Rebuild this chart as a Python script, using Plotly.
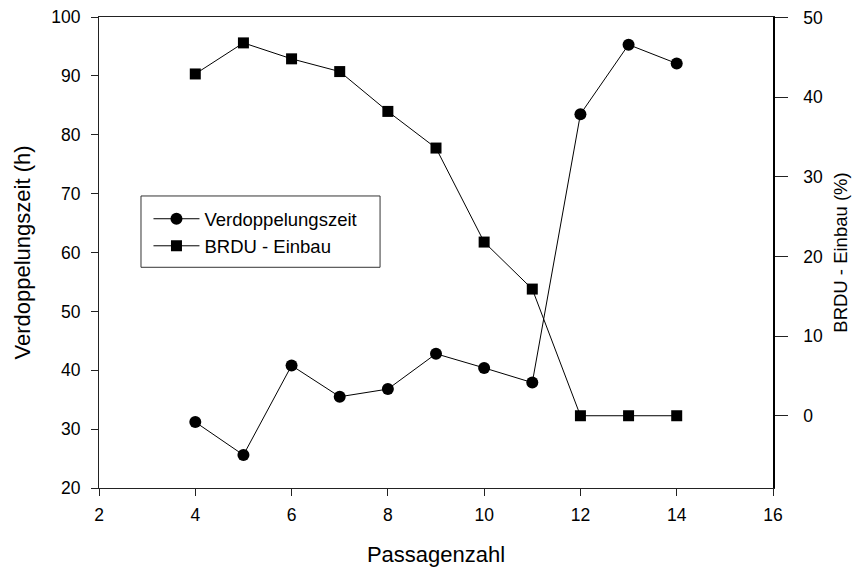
import plotly.graph_objects as go

# Passage numbers and measured values
passagen = [4, 5, 6, 7, 8, 9, 10, 11, 12, 13, 14]
verdoppelungszeit = [31.2, 25.6, 40.8, 35.5, 36.8, 42.8, 40.4, 37.9, 83.5, 95.3, 92.1]
brdu_einbau = [42.9, 46.8, 44.8, 43.2, 38.2, 33.6, 21.8, 15.9, 0.0, 0.0, 0.0]

x_ticks = [2, 4, 6, 8, 10, 12, 14, 16]
y_left_ticks = [20, 30, 40, 50, 60, 70, 80, 90, 100]
y_right_ticks = [0, 10, 20, 30, 40, 50]

FONT = "Liberation Sans, Arial, sans-serif"
AXIS_COLOR = "#222222"

fig = go.Figure()

fig.add_trace(go.Scatter(
    x=passagen, y=verdoppelungszeit, name="Verdoppelungszeit",
    mode="lines+markers",
    line=dict(color="black", width=1),
    marker=dict(symbol="circle", size=12, color="black"),
    yaxis="y",
))

fig.add_trace(go.Scatter(
    x=passagen, y=brdu_einbau, name="BRDU - Einbau",
    mode="lines+markers",
    line=dict(color="black", width=1),
    marker=dict(symbol="square", size=11, color="black"),
    yaxis="y2",
))

# Legend frame drawn as a paper-anchored rectangle
fig.add_shape(
    type="rect", xref="paper", yref="paper",
    x0=0.0623, x1=0.417, y0=0.4686, y1=0.620,
    line=dict(color="#333333", width=1), fillcolor="rgba(0,0,0,0)",
    layer="below",
)

fig.update_layout(
    width=858, height=571,
    margin=dict(l=99, r=85, t=17, b=83, autoexpand=False),
    paper_bgcolor="white", plot_bgcolor="white",
    font=dict(family=FONT, color="black", size=17),
    showlegend=True,
    legend=dict(
        x=0.0734, y=0.611, xanchor="left", yanchor="top",
        borderwidth=0, bgcolor="rgba(0,0,0,0)",
        font=dict(size=18.5, family=FONT, color="black"),
        itemwidth=46,
    ),
    xaxis=dict(
        range=[2, 16], tickvals=x_ticks, automargin=False,
        showgrid=False, zeroline=False,
        showline=True, linecolor=AXIS_COLOR, linewidth=1, mirror=True,
        ticks="outside", ticklen=7, tickcolor=AXIS_COLOR,
        tickfont=dict(size=17.5), ticklabelstandoff=4,
        title=dict(text="Passagenzahl", font=dict(size=22), standoff=22),
    ),
    yaxis=dict(
        range=[20, 100], tickvals=y_left_ticks, automargin=False,
        showgrid=False, zeroline=False,
        showline=True, linecolor=AXIS_COLOR, linewidth=1,
        ticks="outside", ticklen=7, tickcolor=AXIS_COLOR,
        tickfont=dict(size=17.5), ticklabelstandoff=7,
        title=dict(text="Verdoppelungszeit (h)", font=dict(size=22), standoff=14),
    ),
    yaxis2=dict(
        range=[-9.07, 50.05], tickvals=y_right_ticks, automargin=False,
        overlaying="y", side="right",
        showgrid=False, zeroline=False,
        showline=True, linecolor="black", linewidth=1.5,
        ticks="outside", ticklen=13, tickcolor=AXIS_COLOR,
        tickfont=dict(size=17.5), ticklabelstandoff=12,
        title=dict(text="BRDU - Einbau (%)", font=dict(size=18.5), standoff=12),
    ),
)

fig.write_html("out.html")
